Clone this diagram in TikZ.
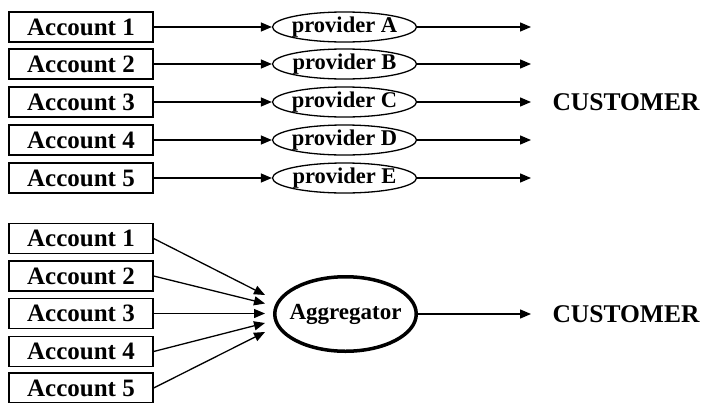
\documentclass[tikz,border=0pt]{standalone}
\usepackage{fontspec}
\setmainfont{Liberation Serif}
\usetikzlibrary{shapes.geometric,arrows.meta}
\begin{document}
\begin{tikzpicture}[x=1pt,y=-1pt,
  acct/.style={draw,line width=1.3pt,minimum width=144pt,minimum height=30pt,inner sep=0pt,
    font=\fontsize{25}{25}\selectfont\bfseries},
  prov/.style={draw,ellipse,line width=1.3pt,minimum width=144pt,minimum height=30pt,
    inner xsep=-12pt,inner ysep=-6pt,
    font=\fontsize{22.5}{22.5}\selectfont\bfseries},
  aggr/.style={draw,ellipse,line width=3.5pt,minimum width=141.5pt,minimum height=74.5pt,
    inner xsep=-15pt,inner ysep=-6pt,
    font=\fontsize{23}{23}\selectfont\bfseries},
  cust/.style={inner sep=0pt,font=\fontsize{25.5}{25.5}\selectfont\bfseries},
  conn/.style={line width=1.3pt,-{Triangle[length=11pt,width=9pt]}}]
\useasboundingbox (0,0) rectangle (701,402);
\fill[white] (0,0) rectangle (701,402);
% top part
\foreach \i/\y/\L in {1/27/A,2/64/B,3/102/C,4/140/D,5/178/E}{
  \node[acct] (ta\i) at (81,\y) {Account \i};
  \node[prov] (p\i) at (344.5,\y) {provider \L};
  \coordinate (te\i) at (531,\y);
  \draw[conn] (ta\i.east) -- (p\i.west);
  \draw[conn] (p\i.east) -- (te\i);
}
\node[cust] (c1) at (626,102) {CUSTOMER};
% bottom part
\foreach \i/\y/\t in {1/238.5/295,2/276/303.5,3/313.5/313.5,4/351.5/323,5/388/332}{
  \node[acct] (ba\i) at (81,\y) {Account \i};
  \coordinate (bt\i) at (265,\t);
}
\node[aggr] (ag) at (345.5,314) {Aggregator};
\foreach \i in {1,...,5}{
  \draw[conn] (ba\i.east) -- (bt\i);
}
\coordinate (be) at (531,314);
\draw[conn] (ag.east) -- (be);
\node[cust] (c2) at (626,314) {CUSTOMER};
\end{tikzpicture}
\end{document}
